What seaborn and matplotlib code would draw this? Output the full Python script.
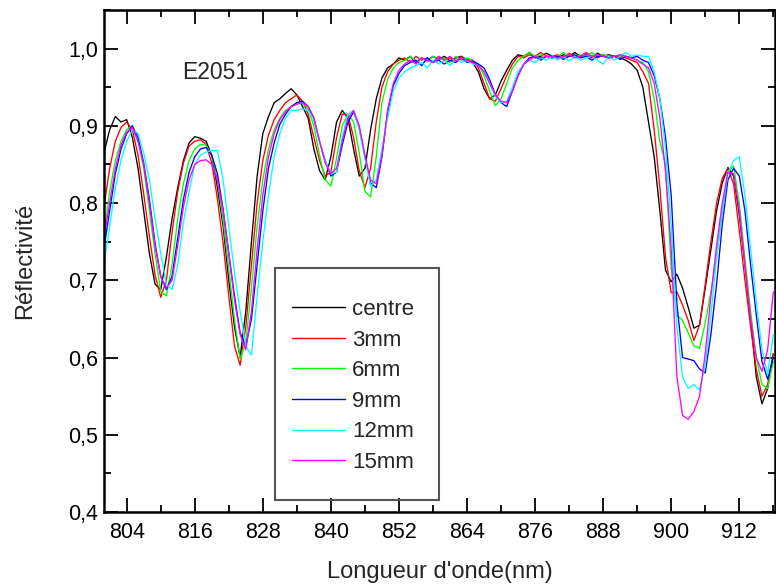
import numpy as np
import pandas as pd
import matplotlib
matplotlib.use("Agg")
import matplotlib.pyplot as plt
import seaborn as sns
from matplotlib.ticker import MultipleLocator, FuncFormatter
from matplotlib.patches import Rectangle

# ---------------- data ----------------
wavelength = list(range(800, 919))

centre = [0.865, 0.895, 0.912, 0.905, 0.908, 0.885, 0.845, 0.79, 0.735, 0.695,
          0.688, 0.73, 0.78, 0.82, 0.855, 0.878, 0.886, 0.884, 0.88, 0.862,
          0.82, 0.77, 0.70, 0.64, 0.60, 0.66, 0.75, 0.835, 0.89, 0.912,
          0.93, 0.935, 0.942, 0.948, 0.94, 0.925, 0.91, 0.87, 0.842, 0.83,
          0.86, 0.905, 0.92, 0.91, 0.87, 0.835, 0.845, 0.895, 0.935, 0.962,
          0.975, 0.98, 0.988, 0.985, 0.99, 0.982, 0.988, 0.984, 0.99, 0.986,
          0.99, 0.984, 0.988, 0.99, 0.985, 0.982, 0.97, 0.948, 0.935, 0.94,
          0.958, 0.972, 0.985, 0.992, 0.99, 0.995, 0.988, 0.99, 0.994, 0.99,
          0.988, 0.992, 0.99, 0.995, 0.99, 0.992, 0.988, 0.994, 0.99, 0.992,
          0.99, 0.988, 0.985, 0.98, 0.972, 0.95, 0.905, 0.86, 0.79, 0.713,
          0.698, 0.708, 0.69, 0.665, 0.638, 0.642, 0.69, 0.74, 0.79, 0.826,
          0.846, 0.835, 0.785, 0.72, 0.649, 0.575, 0.54, 0.56, 0.605]

mm3 = [0.795, 0.845, 0.88, 0.898, 0.905, 0.895, 0.862, 0.812, 0.757, 0.707,
       0.678, 0.70, 0.762, 0.815, 0.852, 0.874, 0.88, 0.882, 0.876, 0.852,
       0.805, 0.748, 0.68, 0.615, 0.59, 0.64, 0.72, 0.80, 0.855, 0.888,
       0.908, 0.92, 0.93, 0.935, 0.94, 0.932, 0.915, 0.885, 0.855, 0.835,
       0.84, 0.885, 0.915, 0.915, 0.885, 0.842, 0.82, 0.845, 0.905, 0.95,
       0.97, 0.98, 0.985, 0.988, 0.982, 0.99, 0.985, 0.988, 0.982, 0.99,
       0.985, 0.988, 0.984, 0.99, 0.986, 0.985, 0.975, 0.955, 0.935, 0.932,
       0.948, 0.965, 0.98, 0.99, 0.988, 0.992, 0.99, 0.995, 0.99, 0.99,
       0.992, 0.988, 0.994, 0.99, 0.99, 0.995, 0.99, 0.988, 0.992, 0.99,
       0.99, 0.99, 0.988, 0.985, 0.982, 0.97, 0.955, 0.895, 0.82, 0.73,
       0.684, 0.685, 0.668, 0.648, 0.622, 0.642, 0.695, 0.75, 0.80, 0.832,
       0.845, 0.825, 0.765, 0.70, 0.64, 0.585, 0.55, 0.565, 0.605]

mm6 = [0.758, 0.815, 0.855, 0.88, 0.895, 0.90, 0.88, 0.845, 0.79, 0.735,
       0.685, 0.68, 0.72, 0.78, 0.825, 0.855, 0.87, 0.876, 0.875, 0.862,
       0.83, 0.778, 0.715, 0.65, 0.598, 0.62, 0.69, 0.77, 0.83, 0.87,
       0.895, 0.91, 0.92, 0.925, 0.93, 0.93, 0.922, 0.90, 0.862, 0.83,
       0.822, 0.858, 0.90, 0.915, 0.905, 0.865, 0.815, 0.808, 0.86, 0.93,
       0.96, 0.975, 0.982, 0.985, 0.99, 0.984, 0.988, 0.983, 0.99, 0.985,
       0.988, 0.982, 0.99, 0.985, 0.988, 0.985, 0.98, 0.965, 0.945, 0.926,
       0.935, 0.955, 0.975, 0.985, 0.99, 0.995, 0.99, 0.992, 0.99, 0.988,
       0.99, 0.995, 0.99, 0.99, 0.992, 0.99, 0.995, 0.99, 0.992, 0.99,
       0.99, 0.992, 0.99, 0.988, 0.985, 0.982, 0.97, 0.935, 0.88, 0.85,
       0.715, 0.655, 0.648, 0.632, 0.615, 0.612, 0.645, 0.685, 0.73, 0.79,
       0.84, 0.848, 0.80, 0.728, 0.66, 0.60, 0.565, 0.56, 0.595]

mm9 = [0.742, 0.79, 0.838, 0.87, 0.89, 0.90, 0.885, 0.852, 0.805, 0.748,
       0.705, 0.688, 0.705, 0.755, 0.805, 0.84, 0.86, 0.87, 0.872, 0.862,
       0.838, 0.792, 0.735, 0.68, 0.632, 0.615, 0.65, 0.72, 0.79, 0.845,
       0.878, 0.902, 0.915, 0.925, 0.93, 0.932, 0.925, 0.91, 0.88, 0.855,
       0.835, 0.84, 0.875, 0.905, 0.918, 0.898, 0.86, 0.826, 0.82, 0.86,
       0.918, 0.952, 0.968, 0.978, 0.982, 0.985, 0.978, 0.988, 0.982, 0.985,
       0.98, 0.985, 0.982, 0.988, 0.982, 0.984, 0.98, 0.975, 0.96, 0.94,
       0.93, 0.925, 0.945, 0.965, 0.98, 0.988, 0.99, 0.985, 0.99, 0.988,
       0.99, 0.986, 0.99, 0.992, 0.988, 0.99, 0.985, 0.99, 0.99, 0.988,
       0.99, 0.986, 0.99, 0.988, 0.99, 0.985, 0.982, 0.965, 0.935, 0.885,
       0.81, 0.67, 0.60, 0.598, 0.596, 0.585, 0.58, 0.63, 0.695, 0.772,
       0.83, 0.845, 0.835, 0.79, 0.72, 0.655, 0.595, 0.572, 0.60]

mm12 = [0.722, 0.77, 0.82, 0.855, 0.88, 0.895, 0.89, 0.865, 0.83, 0.78,
        0.735, 0.695, 0.688, 0.72, 0.775, 0.815, 0.85, 0.862, 0.866, 0.868,
        0.868, 0.83, 0.77, 0.71, 0.66, 0.615, 0.603, 0.68, 0.75, 0.81,
        0.86, 0.89, 0.91, 0.92, 0.92, 0.922, 0.92, 0.908, 0.88, 0.855,
        0.838, 0.84, 0.885, 0.915, 0.92, 0.895, 0.858, 0.822, 0.83, 0.87,
        0.91, 0.945, 0.962, 0.97, 0.975, 0.978, 0.982, 0.975, 0.985, 0.98,
        0.985, 0.978, 0.986, 0.982, 0.985, 0.98, 0.978, 0.97, 0.955, 0.938,
        0.93, 0.932, 0.95, 0.97, 0.98, 0.985, 0.982, 0.988, 0.985, 0.99,
        0.985, 0.99, 0.984, 0.99, 0.985, 0.988, 0.99, 0.985, 0.98, 0.99,
        0.985, 0.99, 0.995, 0.99, 0.992, 0.99, 0.99, 0.97, 0.935, 0.87,
        0.77, 0.64, 0.575, 0.56, 0.565, 0.558, 0.59, 0.655, 0.73, 0.79,
        0.838, 0.855, 0.86, 0.81, 0.74, 0.672, 0.61, 0.578, 0.63]

mm15 = [0.755, 0.80, 0.845, 0.875, 0.892, 0.898, 0.88, 0.85, 0.80, 0.745,
        0.705, 0.69, 0.70, 0.745, 0.795, 0.83, 0.85, 0.855, 0.856, 0.85,
        0.83, 0.79, 0.735, 0.675, 0.63, 0.61, 0.66, 0.74, 0.81, 0.86,
        0.89, 0.908, 0.918, 0.925, 0.928, 0.93, 0.925, 0.91, 0.88, 0.852,
        0.838, 0.845, 0.88, 0.91, 0.92, 0.90, 0.862, 0.83, 0.825, 0.862,
        0.92, 0.955, 0.972, 0.98, 0.985, 0.98, 0.988, 0.985, 0.982, 0.99,
        0.985, 0.99, 0.984, 0.988, 0.985, 0.982, 0.978, 0.97, 0.955, 0.94,
        0.932, 0.93, 0.945, 0.965, 0.98, 0.985, 0.99, 0.988, 0.99, 0.99,
        0.988, 0.99, 0.992, 0.988, 0.99, 0.994, 0.99, 0.992, 0.99, 0.988,
        0.99, 0.992, 0.99, 0.988, 0.985, 0.98, 0.975, 0.955, 0.91, 0.84,
        0.74, 0.575, 0.525, 0.52, 0.53, 0.55, 0.605, 0.68, 0.745, 0.80,
        0.84, 0.838, 0.79, 0.72, 0.65, 0.60, 0.582, 0.61, 0.685]

series_names = ["centre", "3mm", "6mm", "9mm", "12mm", "15mm"]
series_values = [centre, mm3, mm6, mm9, mm12, mm15]
series_colors = ["#000000", "#ff0000", "#00ff00", "#0000ff", "#00ffff", "#ff00ff"]

xticks = [804, 816, 828, 840, 852, 864, 876, 888, 900, 912]
yticks = [0.4, 0.5, 0.6, 0.7, 0.8, 0.9, 1.0]

for v in series_values:
    assert len(v) == len(wavelength), len(v)

df = pd.concat([pd.DataFrame({"wl": wavelength, "R": vals, "serie": name})
                for name, vals in zip(series_names, series_values)],
               ignore_index=True)

# ---------------- style ----------------
sns.set_theme(style="ticks")
plt.rcParams['font.family'] = ['Liberation Sans', 'DejaVu Sans']

fig = plt.figure(figsize=(7.76, 5.85), dpi=100)
ax = fig.add_axes([104 / 776, 73 / 585, 671 / 776, 502 / 585])

sns.lineplot(data=df, x="wl", y="R", hue="serie", hue_order=series_names,
             palette=series_colors, estimator=None, sort=False,
             linewidth=0.95, ax=ax)

ax.set_xlim(800, 918.3)
ax.set_ylim(0.4, 1.05)
ax.set_xticks(xticks)
ax.set_yticks(yticks)
ax.xaxis.set_minor_locator(MultipleLocator(6))
ax.yaxis.set_minor_locator(MultipleLocator(0.05))
ax.yaxis.set_major_formatter(FuncFormatter(lambda v, p: f"{v:.1f}".replace(".", ",")))

ax.tick_params(which="both", direction="in", top=True, right=True, color="black",
               width=1.3, labelsize=15.5, labelcolor="black")
ax.tick_params(which="major", length=10)
ax.tick_params(which="minor", length=5)
ax.tick_params(axis="y", pad=4)
ax.tick_params(axis="x", pad=7)
for s in ax.spines.values():
    s.set_linewidth(1.8)
    s.set_color("black")

ax.set_xlabel("Longueur d'onde(nm)", fontsize=17, labelpad=13)
ax.set_ylabel("Réflectivité", fontsize=17, labelpad=23)

ax.text(813.7, 0.969, "E2051", fontsize=16.5, ha="left", va="center")

# legend
handles, labels = ax.get_legend_handles_labels()
leg = ax.legend(handles, labels, loc="upper left", bbox_to_anchor=(0.280, 0.424),
                bbox_transform=ax.transAxes, frameon=False, fontsize=16,
                handlelength=2.4, handletextpad=0.3, labelspacing=0.43,
                borderpad=0, borderaxespad=0)
for line in leg.get_lines():
    line.set_linewidth(1.0)
ax.add_patch(Rectangle((0.255, 0.024), 0.244, 0.462, transform=ax.transAxes,
                       fill=False, edgecolor="#555555", linewidth=1.5, zorder=5))

fig.savefig("out.png", dpi=100)
